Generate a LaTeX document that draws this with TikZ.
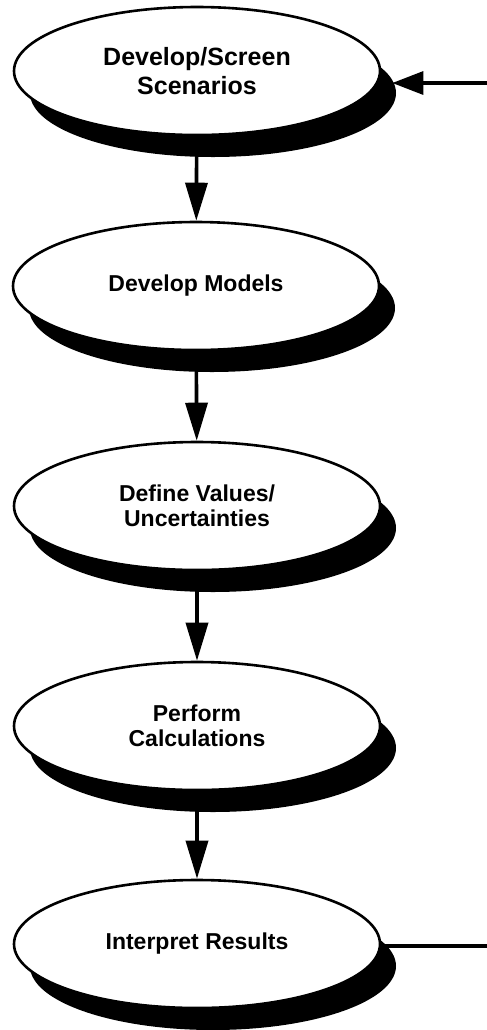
\documentclass[tikz,border=0pt]{standalone}
\usepackage{fontspec}
\setmainfont{Liberation Sans}
\usepackage{tikz}
\usetikzlibrary{arrows.meta,shadows,shapes.geometric}

\tikzset{
	step box/.style={draw, ellipse, line width=1.3pt, fill=white, inner sep=0pt,
		minimum width=183pt, minimum height=64pt, align=center,
		font=\bfseries\fontsize{11.5}{12.5}\selectfont,
		drop shadow={shadow xshift=8pt, shadow yshift=-11pt, fill=black, opacity=1}},
	flow/.style={line width=1.8pt, -{Triangle[length=19pt, width=11pt]}},
	back/.style={line width=1.6pt, -{Triangle[length=15.5pt, width=11.5pt]}, shorten >=5.5pt}
}

\begin{document}
\begin{tikzpicture}[x=0.5pt, y=-0.5pt]
			\useasboundingbox (0,0) rectangle (487,1030);
			\node	(scen) at (197,71) [step box, font=\bfseries\fontsize{12.5}{14.5}\selectfont] {Develop/Screen\\Scenarios};
			\node	(models) at (196,286) [step box] {Develop Models};
			\node	(values) at (197,506) [step box] {Define Values/\\Uncertainties};
			\node	(calc) at (197,726) [step box] {Perform\\Calculations};
			\node	(interp) at (197,944) [step box] {Interpret Results};
			\coordinate (fbin) at (487,83);
			\coordinate (fbout) at (487,946);

			\draw 
			(scen) edge[flow] (models)
			(models) edge[flow] (values)
			(values) edge[flow] (calc)
			(calc) edge[flow] (interp)
			(fbin) edge[back] (fbin -| scen.east)
			;
			\draw[line width=1.6pt] (fbout -| interp.east) -- (fbout);
		\end{tikzpicture}
\end{document}
